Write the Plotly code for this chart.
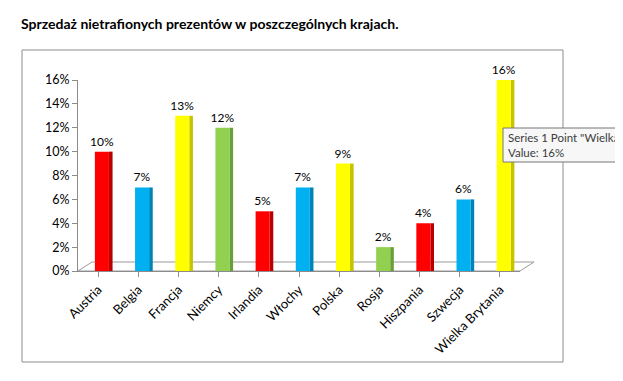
import plotly.graph_objects as go

countries = ["Austria", "Belgia", "Francja", "Niemcy", "Irlandia", "Włochy",
             "Polska", "Rosja", "Hiszpania", "Szwecja", "Wielka Brytania"]
values = [10, 7, 13, 12, 5, 7, 9, 2, 4, 6, 16]
front_colors = ["#FF0000", "#00B0F0", "#FFFF00", "#92D050"] * 3
side_colors = ["#B80000", "#0084B8", "#C4C400", "#6A9E38"] * 3
front_colors = front_colors[:len(values)]
side_colors = side_colors[:len(values)]
labels = [f"{v}%" for v in values]
tooltip_lines = ['Series 1 Point "Wielka', "Value: 16%"]

FONT = "Lato"
OFF = 8  # page body margin

W, H = 623, 381
# plot area in page pixels: x 78..520, y 80..271
L = 78 - OFF
T = 80 - OFF
R = W - (520 - OFF)
B = H - (271 - OFF)
pw, ph = W - L - R, H - T - B

def px(x):
    return (x - OFF - L) / pw

def py(y):
    return (H - B - (y - OFF)) / ph

fig = go.Figure()
# side (depth) face
fig.add_trace(go.Bar(x=list(range(len(values))), y=values, marker_color=side_colors,
                     marker_line_width=0, width=0.09, offset=0.27,
                     hoverinfo="skip", showlegend=False))
# front face
fig.add_trace(go.Bar(x=list(range(len(values))), y=values, marker_color=front_colors,
                     marker_line_width=0, width=0.35, offset=-0.08,
                     text=labels, textposition="outside", cliponaxis=False,
                     constraintext="none",
                     textfont=dict(family=FONT, size=12, color="#000000"),
                     hoverinfo="skip", showlegend=False))

shapes = [
    # outer frame
    dict(type="rect", xref="paper", yref="paper", x0=px(22), x1=px(563), y0=py(362), y1=py(50),
         line=dict(color="#8C8C8C", width=1), fillcolor="rgba(0,0,0,0)", layer="below"),
    # 3D floor
    dict(type="path", xref="paper", yref="paper",
         path=f"M {px(78)},{py(271)} L {px(520)},{py(271)} L {px(534)},{py(262)} L {px(92)},{py(262)} Z",
         line=dict(color="#9A9A9A", width=1), fillcolor="#FFFFFF", layer="below"),
    # tooltip box (extends past the right edge)
    dict(type="rect", xref="paper", yref="paper", x0=px(503), x1=px(640), y0=py(162), y1=py(128),
         line=dict(color="#767676", width=1), fillcolor="#F7F7F7", layer="above"),
]

annotations = [
    dict(xref="paper", yref="paper", x=px(19), y=py(24), xanchor="left", yanchor="middle",
         text="<b>Sprzedaż nietrafionych prezentów w poszczególnych krajach.</b>",
         showarrow=False, font=dict(family=FONT, size=14, color="#000000")),
    dict(xref="paper", yref="paper", x=px(506), y=py(145), xanchor="left", yanchor="middle",
         text="<br>".join(tooltip_lines), align="left",
         showarrow=False,
         font=dict(family=FONT, size=11.5, color="#3C3C3C")),
]

fig.update_layout(
    width=W, height=H,
    margin=dict(l=L, r=R, t=T, b=B),
    paper_bgcolor="white", plot_bgcolor="rgba(0,0,0,0)",
    barmode="overlay", hovermode=False,
    shapes=shapes, annotations=annotations,
    font=dict(family=FONT, size=12, color="#000000"),
)
fig.update_xaxes(range=[-0.5, len(values) - 0.5], tickmode="array",
                 tickvals=list(range(len(values))), ticktext=countries,
                 tickangle=-45, tickson="boundaries", ticks="outside", ticklen=5,
                 tickcolor="#8C8C8C", showline=True, linecolor="#8C8C8C", showgrid=False,
                 zeroline=False, tickfont=dict(family=FONT, size=13))
fig.update_yaxes(range=[0, 16], dtick=2, ticksuffix="%", ticks="outside", ticklen=5,
                 tickcolor="#8C8C8C", showline=True, linecolor="#8C8C8C", showgrid=False,
                 zeroline=False, tickfont=dict(family=FONT, size=12.5))

fig.write_html("out.html")
